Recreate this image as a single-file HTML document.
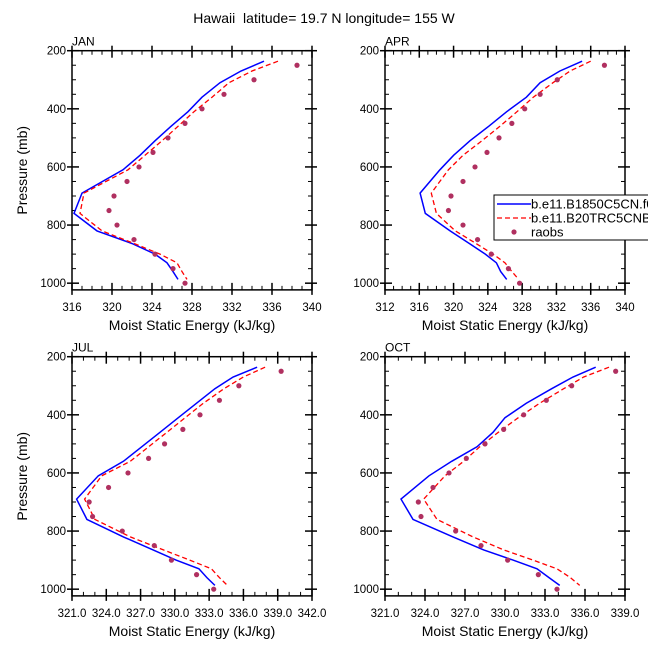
<!DOCTYPE html>
<html><head><meta charset="utf-8">
<style>
html,body{margin:0;padding:0;background:#fff;overflow:hidden;}
svg{display:block;font-family:"Liberation Sans",Arial,sans-serif;}
</style></head>
<body>
<svg id="chart" width="648" height="649" viewBox="0 0 648 649">
<text x="324" y="23" text-anchor="middle" font-size="14" xml:space="preserve">Hawaii  latitude= 19.7 N longitude= 155 W</text>
</svg>
<script>
// Data
const modelP = [236,270,310,360,410,460,510,560,610,690,760,820,865,900,930,960,987];
const obsP = [250,300,350,400,450,500,550,600,650,700,750,800,850,900,950,1000];
const janBlue = [335.2,332.9,330.8,329.0,327.6,325.9,324.3,322.8,321.1,317.0,316.2,318.5,322.1,324.3,325.5,326.1,326.6];
const janRed  = [336.6,334.0,331.7,330.0,328.2,326.6,325.0,323.3,321.6,317.2,316.8,319.0,322.3,324.8,326.5,327.0,327.5];
const janObs  = [338.5,334.2,331.2,329.0,327.3,325.6,324.1,322.7,321.5,320.2,319.7,320.5,322.2,324.3,326.1,327.3];
const aprBlue = [335.0,332.4,330.1,328.5,326.2,324.1,321.9,320.0,318.4,316.1,316.7,319.6,321.9,323.7,325.0,325.5,326.2];
const aprRed  = [336.0,333.6,331.6,329.3,327.4,325.4,323.3,321.1,319.4,317.4,318.0,320.2,322.7,324.6,326.0,326.8,327.6];
const aprObs  = [337.6,332.1,330.1,328.3,326.8,325.3,323.9,322.5,321.1,319.7,319.4,321.1,322.8,324.4,326.4,327.7];
const julBlue = [337.2,335.1,333.5,331.9,330.3,328.7,327.1,325.5,323.3,321.4,322.3,325.5,328.1,330.1,332.1,332.8,333.5];
const julRed  = [337.9,336.0,334.3,332.5,330.9,329.3,327.7,326.1,323.6,322.1,323.0,326.1,329.0,331.3,333.2,333.9,334.6];
const julObs  = [339.3,335.6,333.9,332.2,330.7,329.1,327.7,325.9,324.2,322.5,322.8,325.4,328.2,329.7,331.9,333.4];
const octBlue = [336.8,335.1,333.5,331.6,330.0,329.1,327.9,326.0,324.3,322.2,323.1,326.1,328.4,330.6,332.4,333.3,334.1];
const octRed  = [337.8,335.9,334.4,332.6,331.0,329.5,328.1,326.9,325.5,323.9,324.9,327.6,329.9,332.1,333.9,334.9,335.6];
const octObs  = [338.3,335.0,333.1,331.4,329.9,328.5,327.1,325.8,324.6,323.5,323.7,326.3,328.2,330.2,332.5,333.9];
const yTicks = [200,400,600,800,1000];
const janX = [316,320,324,328,332,336,340];
const aprX = [312,316,320,324,328,332,336,340];
const julX = ["321.0","324.0","327.0","330.0","333.0","336.0","339.0","342.0"];
const octX = ["321.0","324.0","327.0","330.0","333.0","336.0","339.0"];
const legendLabels = ["b.e11.B1850C5CN.f09_g16.005","b.e11.B20TRC5CNBDRD.f09_g16.001","raobs"];

const NS="http://www.w3.org/2000/svg";
const svg=document.getElementById('chart');
function mk(tag,attrs,parent){const e=document.createElementNS(NS,tag);for(const k in attrs)e.setAttribute(k,attrs[k]);(parent||svg).appendChild(e);return e;}

const panels=[
 {name:'jan',label:'JAN',x0:72,x1:312,y0:50.7,xmin:316,xmax:340,xt:janX,blue:janBlue,red:janRed,obs:janObs,ylab:true},
 {name:'apr',label:'APR',x0:385,x1:625,y0:50.7,xmin:312,xmax:340,xt:aprX,blue:aprBlue,red:aprRed,obs:aprObs,ylab:false},
 {name:'jul',label:'JUL',x0:72,x1:312,y0:356.7,xmin:321,xmax:342,xt:julX,blue:julBlue,red:julRed,obs:julObs,ylab:true},
 {name:'oct',label:'OCT',x0:385,x1:625,y0:356.7,xmin:321,xmax:339,xt:octX,blue:octBlue,red:octRed,obs:octObs,ylab:false}
];
const pScale=0.2906;
panels.forEach(P=>{
  const g=mk('g',{});
  
  
  const xs=v=>P.x0+(v-P.xmin)/(P.xmax-P.xmin)*(P.x1-P.x0);
  const ys=p=>P.y0+(p-200)*pScale;
  const top=P.y0, bot=ys(1000)+6.7;
  for(let p=250;p<1000;p+=50){ if(p%200===0) continue;
    mk('line',{x1:P.x0,x2:P.x0+4,y1:ys(p),y2:ys(p),stroke:'#000','stroke-width':1},g);
    mk('line',{x1:P.x1,x2:P.x1-4,y1:ys(p),y2:ys(p),stroke:'#000','stroke-width':1},g);
  }
  for(let v=P.xmin;v<=P.xmax;v+=1){
    mk('line',{x1:xs(v),x2:xs(v),y1:bot,y2:bot-4,stroke:'#000','stroke-width':1},g);
    mk('line',{x1:xs(v),x2:xs(v),y1:top,y2:top+4,stroke:'#000','stroke-width':1},g);
  }
  yTicks.forEach(p=>{
    const y=ys(p);
    mk('line',{x1:P.x0-5,x2:P.x0+7,y1:y,y2:y,stroke:'#000','stroke-width':1.5},g);
    mk('line',{x1:P.x1-7,x2:P.x1+5,y1:y,y2:y,stroke:'#000','stroke-width':1.5},g);
    const t=mk('text',{x:P.x0-6,y:y+4,'text-anchor':'end','font-size':11.5},g);
    t.textContent=p;
    
    
  });
  P.xt.forEach(lbl=>{
    const x=xs(parseFloat(lbl));
    mk('line',{x1:x,x2:x,y1:bot+5,y2:bot-7,stroke:'#000','stroke-width':1.5},g);
    mk('line',{x1:x,x2:x,y1:top-5,y2:top+7,stroke:'#000','stroke-width':1.5},g);
    const t=mk('text',{x:x,y:bot+21,'text-anchor':'middle','font-size':11.5},g);
    t.textContent=lbl;
    
    
  });
  mk('rect',{x:P.x0,y:top,width:P.x1-P.x0,height:bot-top,fill:'none',stroke:'#000','stroke-width':1.5},g);
  const lab=mk('text',{x:P.x0,y:top-5,'font-size':12},g);
  lab.textContent=P.label;
  
  
  const pts=arr=>arr.map((v,i)=>xs(v).toFixed(1)+','+ys(modelP[i]).toFixed(1)).join(' ');
  const bl=mk('polyline',{points:pts(P.blue),fill:'none',stroke:'#0000ff','stroke-width':1.5},g);
  
  
  const rl=mk('polyline',{points:pts(P.red),fill:'none',stroke:'#ff0000','stroke-width':1.3,'stroke-dasharray':'5,3'},g);
  
  
  P.obs.forEach((v,i)=>{
    const c=mk('circle',{cx:xs(v),cy:ys(obsP[i]),r:2.6,fill:'#b03060'},g);
    
    
  });
  if(P.ylab){
    const cy=(top+bot)/2;
    const t=mk('text',{x:27,y:cy,'text-anchor':'middle','font-size':14,transform:'rotate(-90 27 '+cy+')'},g);
    t.textContent='Pressure (mb)';
    
    
  }
  const xt=mk('text',{x:(P.x0+P.x1)/2,y:bot+40,'text-anchor':'middle','font-size':14},g);
  xt.textContent='Moist Static Energy (kJ/kg)';
  
  
});
const lg=mk('g',{});


mk('rect',{x:494,y:195,width:170,height:45,fill:'#fff',stroke:'#000','stroke-width':1},lg);
const rowsY=[204,218,232];
mk('line',{x1:497,x2:531,y1:rowsY[0],y2:rowsY[0],stroke:'#0000ff','stroke-width':1.5},lg);
mk('line',{x1:497,x2:531,y1:rowsY[1],y2:rowsY[1],stroke:'#ff0000','stroke-width':1.3,'stroke-dasharray':'5,3'},lg);
mk('circle',{cx:514,cy:rowsY[2],r:2.6,fill:'#b03060'},lg);
legendLabels.forEach((s,i)=>{
  const t=mk('text',{x:531,y:rowsY[i]+4.5,'font-size':13},lg);
  t.textContent=s;
  
  
});
</script>
</body></html>
